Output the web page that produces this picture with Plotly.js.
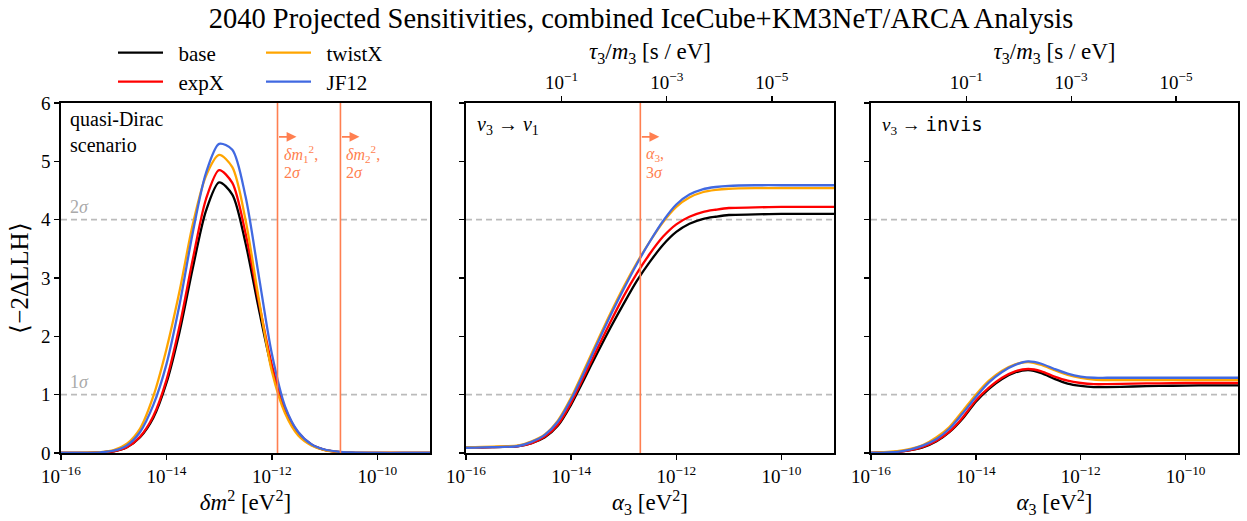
<!DOCTYPE html>
<html>
<head>
<meta charset="utf-8">
<script src="https://cdn.plot.ly/plotly-3.0.1.min.js"></script>
<style>html,body{margin:0;padding:0;background:#fff;}</style>
</head>
<body>
<div id="chart" style="width:1247px;height:521px;"></div>
<script>
// ---------------- data (log10 of x, and <-2ΔLLH>) ----------------
const HBAR = 6.582e-16; // eV s, converts alpha_3 to tau_3/m_3

const seriesNames = ["base", "expX", "twistX", "JF12"];
const seriesColors = ["#000000", "#ff0000", "#ffa500", "#4169e1"];

// panel 1: quasi-Dirac, x = delta m^2 [eV^2]
const expQD = [-16,-15.5,-15.25,-15,-14.75,-14.5,-14.25,-14,-13.75,-13.5,-13.25,-13,-12.75,-12.5,-12.25,-12,-11.75,-11.5,-11.25,-11,-10.75,-10.5,-10,-9.5,-9];
const baseQD   = [0,0.003,0.01,0.03,0.1,0.27,0.6,1.2,2.08,3.17,4.15,4.64,4.43,3.6,2.48,1.45,0.74,0.34,0.14,0.055,0.02,0.007,0,0,0];
const expXQD   = [0,0.003,0.01,0.03,0.1,0.28,0.63,1.25,2.18,3.32,4.35,4.85,4.63,3.77,2.6,1.51,0.77,0.35,0.145,0.055,0.02,0.007,0,0,0];
const twistXQD = [0,0.004,0.015,0.05,0.16,0.42,0.97,1.78,2.78,3.92,4.75,5.11,4.9,4.0,2.65,1.4,0.68,0.3,0.13,0.05,0.02,0.007,0,0,0];
const JF12QD   = [0,0.003,0.012,0.04,0.13,0.36,0.82,1.52,2.55,3.78,4.8,5.3,5.2,4.4,3.05,1.7,0.8,0.36,0.15,0.06,0.025,0.01,0,0,0];

// panel 2: nu3 -> nu1, x = alpha_3 [eV^2]
const expNu1 = [-16,-15.5,-15,-14.75,-14.5,-14.25,-14,-13.75,-13.5,-13.25,-13,-12.75,-12.5,-12.25,-12,-11.75,-11.5,-11.25,-11,-10.5,-10,-9.5,-9];
const baseNu1   = [0.1,0.1,0.12,0.17,0.27,0.47,0.83,1.27,1.72,2.15,2.56,2.95,3.28,3.57,3.79,3.93,4.01,4.05,4.08,4.09,4.1,4.1,4.1];
const expXNu1   = [0.1,0.1,0.12,0.17,0.28,0.49,0.86,1.32,1.79,2.25,2.69,3.08,3.42,3.71,3.92,4.05,4.13,4.17,4.2,4.21,4.22,4.22,4.22];
const twistXNu1 = [0.1,0.11,0.13,0.2,0.32,0.56,0.95,1.43,1.92,2.4,2.85,3.26,3.63,3.96,4.22,4.38,4.47,4.51,4.53,4.54,4.54,4.54,4.54];
const JF12Nu1   = [0.09,0.1,0.12,0.19,0.31,0.54,0.92,1.39,1.88,2.36,2.81,3.24,3.63,3.98,4.26,4.43,4.52,4.56,4.58,4.59,4.59,4.59,4.59];

// panel 3: nu3 -> invisible, x = alpha_3 [eV^2]
const expInv = [-16,-15.5,-15.25,-15,-14.75,-14.5,-14.25,-14,-13.75,-13.5,-13.25,-13,-12.75,-12.5,-12.25,-12,-11.75,-11.5,-11,-10.5,-10,-9.5,-9];
const baseInv   = [0,0.02,0.05,0.1,0.2,0.36,0.59,0.88,1.1,1.27,1.38,1.42,1.37,1.27,1.19,1.15,1.13,1.13,1.14,1.15,1.155,1.16,1.16];
const expXInv   = [0,0.02,0.05,0.11,0.21,0.37,0.61,0.9,1.12,1.29,1.4,1.44,1.4,1.31,1.24,1.2,1.18,1.18,1.19,1.195,1.2,1.2,1.2];
const twistXInv = [0,0.03,0.07,0.14,0.27,0.45,0.72,1.0,1.24,1.41,1.52,1.56,1.51,1.42,1.34,1.29,1.26,1.25,1.25,1.25,1.25,1.25,1.25];
const JF12Inv   = [0,0.02,0.06,0.13,0.24,0.42,0.68,0.96,1.21,1.39,1.51,1.57,1.53,1.44,1.36,1.31,1.29,1.29,1.29,1.29,1.29,1.29,1.29];

// limits (vertical lines) with two-line labels
const limitsQD = [1.28e-12, 2.0e-11];
const limitLabelsQD = [["<i>δm</i><sub>1</sub><sup>2</sup>,", "2<i>σ</i>"], ["<i>δm</i><sub>2</sub><sup>2</sup>,", "2<i>σ</i>"]];
const limitsNu1 = [2.07e-13];
const limitLabelsNu1 = [["<i>α</i><sub>3</sub>,", "3<i>σ</i>"]];
const sigmaLevels = [1, 4];
const sigmaLabels = ["1<i>σ</i>", "2<i>σ</i>"];

const xTickVals = [1e-16, 1e-14, 1e-12, 1e-10];
const xTickText = ["10<sup>−16</sup>", "10<sup>−14</sup>", "10<sup>−12</sup>", "10<sup>−10</sup>"];
const tauTickVals = [1e-1, 1e-3, 1e-5];
const tauTickText = ["10<sup>−1</sup>", "10<sup>−3</sup>", "10<sup>−5</sup>"];
const yTickVals = [0, 1, 2, 3, 4, 5, 6];

// ---------------- build traces ----------------
const FONT = "'Liberation Serif', 'Times New Roman', serif";
const CORAL = "#ff7f50";
const toX = e => e.map(v => Math.pow(10, v));

const panels = [
  {exp: expQD,  ys: [baseQD, expXQD, twistXQD, JF12QD], xa: "x",  ya: "y"},
  {exp: expNu1, ys: [baseNu1, expXNu1, twistXNu1, JF12Nu1], xa: "x2", ya: "y2"},
  {exp: expInv, ys: [baseInv, expXInv, twistXInv, JF12Inv], xa: "x3", ya: "y3"}
];
const legendIds = ["legend", "legend2", "legend3", "legend4"];
const traces = [];
panels.forEach((p, pi) => {
  p.ys.forEach((yv, si) => {
    traces.push({
      type: "scatter", mode: "lines",
      x: toX(p.exp), y: yv,
      xaxis: p.xa, yaxis: p.ya,
      name: "\u00a0\u00a0" + seriesNames[si],
      line: {color: seriesColors[si], width: 2.3, shape: "spline", smoothing: 0.8},
      showlegend: pi === 0,
      legend: legendIds[si],
      hoverinfo: "x+y+name"
    });
  });
});
// invisible carriers for the top tau axes
["x4", "x5"].forEach((xa, i) => {
  traces.push({
    type: "scatter", mode: "lines",
    x: [HBAR / 1e-16, HBAR / 1e-9], y: [null, null],
    xaxis: xa, yaxis: i === 0 ? "y2" : "y3",
    showlegend: false, hoverinfo: "skip"
  });
});

// ---------------- layout ----------------
const W = 1247, H = 521;
const px = v => v / W, py = v => 1 - v / H;
const yDom = [py(453), py(103)];
const TICK = 19, AXT = 23;

function xAxis(dom, titleHtml) {
  return {
    type: "log", domain: dom, range: [-16, -9],
    tickvals: xTickVals, ticktext: xTickText,
    ticks: "outside", ticklen: 5, tickwidth: 1.3, tickcolor: "#000",
    showline: true, mirror: true, linecolor: "#000", linewidth: 1.8,
    showgrid: false, zeroline: false,
    tickfont: {family: FONT, size: TICK, color: "#000"},
    title: {text: titleHtml, font: {family: FONT, size: AXT, color: "#000"}, standoff: 2},
    automargin: false, fixedrange: true
  };
}
function tauAxis(over, anchor) {
  return {
    type: "log", overlaying: over, anchor: anchor, side: "top",
    range: [Math.log10(HBAR / 1e-16), Math.log10(HBAR / 1e-9)],
    tickvals: tauTickVals, ticktext: tauTickText,
    ticks: "outside", ticklen: 5, tickwidth: 1.3, tickcolor: "#000",
    showline: true, linecolor: "#000", linewidth: 1.8,
    showgrid: false, zeroline: false,
    tickfont: {family: FONT, size: TICK, color: "#000"},
    title: {text: "<i>τ</i><sub>3</sub>/<i>m</i><sub>3</sub> [s / eV]", font: {family: FONT, size: AXT, color: "#000"}, standoff: 2},
    automargin: false, fixedrange: true
  };
}
function yAxis(anchor, labels) {
  return {
    domain: yDom, range: [0, 6], anchor: anchor,
    tickvals: yTickVals, showticklabels: labels,
    ticks: "outside", ticklen: 5, tickwidth: 1.3, tickcolor: "#000",
    showline: true, mirror: true, linecolor: "#000", linewidth: 1.8,
    showgrid: false, zeroline: false,
    tickfont: {family: FONT, size: TICK, color: "#000"},
    title: labels ? {text: "⟨−2ΔLLH⟩", font: {family: FONT, size: 25, color: "#000"}, standoff: 5} : {text: ""},
    automargin: false, fixedrange: true
  };
}

const shapes = [];
const annotations = [];
["x", "x2", "x3"].forEach((xa, i) => {
  const ya = ["y", "y2", "y3"][i];
  sigmaLevels.forEach(lv => {
    shapes.push({type: "line", xref: xa + " domain", yref: ya, x0: 0, x1: 1, y0: lv, y1: lv,
      line: {color: "#bbbbbb", width: 1.6, dash: "6px,4px"}, layer: "below"});
  });
});
sigmaLevels.forEach((lv, i) => {
  annotations.push({xref: "x domain", yref: "y", x: 0.02, y: lv, xanchor: "left", yanchor: "bottom",
    yshift: 1, text: sigmaLabels[i], showarrow: false, font: {family: FONT, size: 18, color: "#aaaaaa"}});
});
function addLimit(xa, ya, val, lines) {
  shapes.push({type: "line", xref: xa, yref: ya + " domain", x0: val, x1: val, y0: 0, y1: 1,
    line: {color: CORAL, width: 1.6}});
  annotations.push({xref: xa, yref: ya, x: Math.log10(val), y: 5.42, xshift: 19, ax: -19, ay: 0,
    axref: "pixel", ayref: "pixel", text: "", showarrow: true, arrowhead: 2, arrowsize: 1.1,
    arrowwidth: 1.8, arrowcolor: CORAL, standoff: 0, startstandoff: 0});
  lines.forEach((t, k) => {
    annotations.push({xref: xa, yref: ya, x: Math.log10(val), y: 5.12 - 0.31 * k, xshift: 5, xanchor: "left",
      yanchor: "middle", align: "left", text: t, showarrow: false, borderpad: 0,
      font: {family: FONT, size: 16, color: CORAL}});
  });
}
limitsQD.forEach((v, i) => addLimit("x", "y", v, limitLabelsQD[i]));
limitsNu1.forEach((v, i) => addLimit("x2", "y2", v, limitLabelsNu1[i]));

annotations.push({xref: "x domain", yref: "y domain", x: 0.02, y: 0.99, xanchor: "left", yanchor: "top",
  align: "left", text: "quasi-Dirac<br>scenario", showarrow: false, font: {family: FONT, size: 20, color: "#000"}});
annotations.push({xref: "x2 domain", yref: "y2 domain", x: 0.025, y: 0.978, xanchor: "left", yanchor: "top",
  text: "<i>ν</i><sub>3</sub> → <i>ν</i><sub>1</sub>", showarrow: false, font: {family: FONT, size: 20, color: "#000"}});
annotations.push({xref: "x3 domain", yref: "y3 domain", x: 0.025, y: 0.978, xanchor: "left", yanchor: "top",
  text: "<i>ν</i><sub>3</sub> → <span style=\"font-family:'DejaVu Sans Mono'\">invis</span>", showarrow: false,
  font: {family: FONT, size: 19, color: "#000"}});

function legendAt(xp, yp) {
  return {x: px(xp), y: py(yp), xanchor: "left", yanchor: "middle", bgcolor: "rgba(0,0,0,0)",
    borderwidth: 0, itemwidth: 45, font: {family: FONT, size: 21, color: "#000"}};
}

const layout = {
  width: W, height: H,
  margin: {l: 0, r: 0, t: 0, b: 0},
  paper_bgcolor: "#fff", plot_bgcolor: "#fff",
  font: {family: FONT, color: "#000"},
  title: {text: "2040 Projected Sensitivities, combined IceCube+KM3NeT/ARCA Analysis",
    x: 641 / W, xanchor: "center", y: py(18), yanchor: "middle", font: {family: FONT, size: 28.5, color: "#000"}},
  xaxis: xAxis([px(61), px(430)], "<i>δm</i><sup>2</sup> [eV<sup>2</sup>]"),
  xaxis2: xAxis([px(466), px(834)], "<i>α</i><sub>3</sub> [eV<sup>2</sup>]"),
  xaxis3: xAxis([px(871), px(1238)], "<i>α</i><sub>3</sub> [eV<sup>2</sup>]"),
  xaxis4: tauAxis("x2", "y2"),
  xaxis5: tauAxis("x3", "y3"),
  yaxis: yAxis("x", true),
  yaxis2: yAxis("x2", false),
  yaxis3: yAxis("x3", false),
  legend: legendAt(113, 53),
  legend2: legendAt(113, 82),
  legend3: legendAt(261, 53),
  legend4: legendAt(261, 82),
  shapes: shapes,
  annotations: annotations,
  showlegend: true
};
layout.xaxis.anchor = "y"; layout.xaxis2.anchor = "y2"; layout.xaxis3.anchor = "y3";

Plotly.newPlot("chart", traces, layout, {staticPlot: true, displayModeBar: false});
</script>
</body>
</html>
